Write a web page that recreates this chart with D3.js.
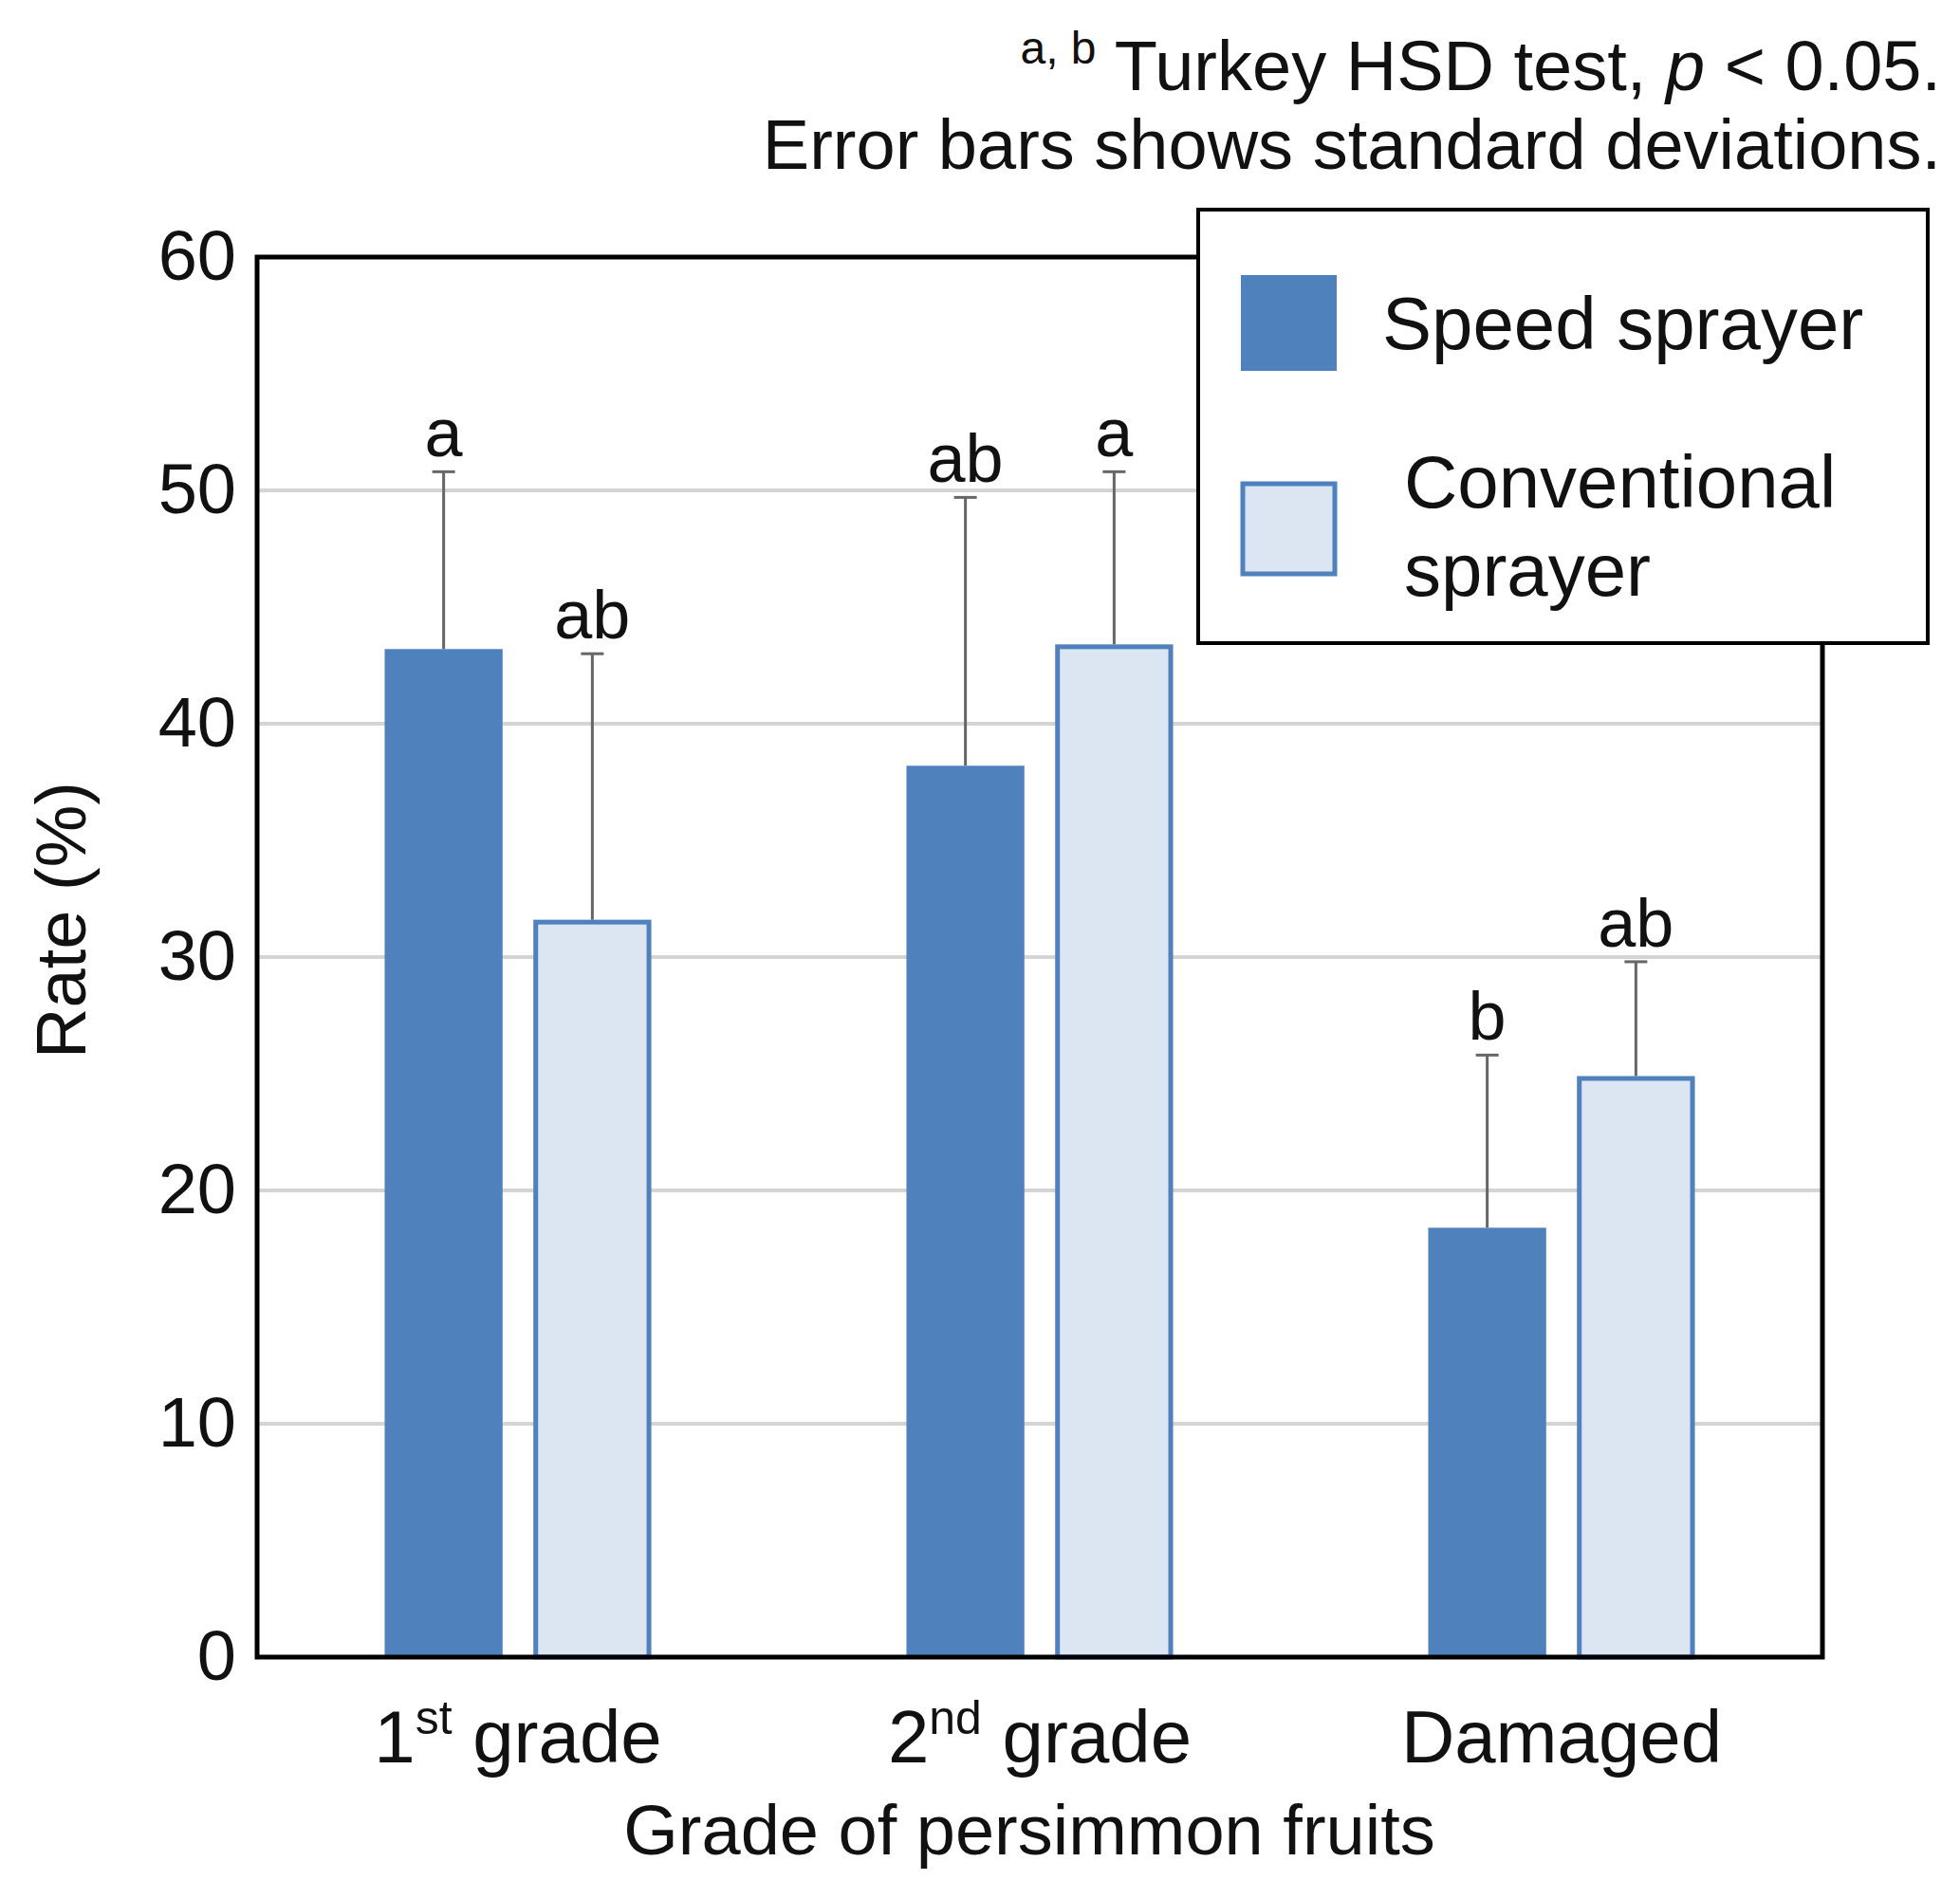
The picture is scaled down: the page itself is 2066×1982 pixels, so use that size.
<!DOCTYPE html>
<html><head><meta charset="utf-8">
<script src="https://cdn.jsdelivr.net/npm/d3@7"></script>
<style>body{margin:0;background:#fff}svg{display:block;font-family:Arial,"Liberation Sans",sans-serif}</style>
</head><body>
<script>
const categories = ["1st grade","2nd grade","Damaged"];
const seriesNames = ["Speed sprayer","Conventional sprayer"];
const speedValues = [43.2, 38.2, 18.4];
const speedSD = [7.6, 11.5, 7.4];
const convValues = [31.6, 43.4, 24.9];
const convSD = [11.4, 7.4, 4.9];
const speedLetters = ["a","ab","b"];
const convLetters = ["ab","a","ab"];
const yTicks = [0,10,20,30,40,50,60];

const W=2066,H=1982;
const L=271,R=1921,T=271,B=1747;
const svg=d3.select("body").append("svg").attr("width",W).attr("height",H);
const y=d3.scaleLinear().domain([0,60]).range([B,T]);
const x=d3.scaleBand().domain(categories).range([L,R]).padding(0);
const sub=d3.scaleBand().domain([0,1]).range([-0.2555,0.2555]).paddingInner(0.207);
const bw=x.bandwidth();

svg.append("g").selectAll("line").data(yTicks.filter(t=>t>0&&t<60)).join("line")
 .attr("x1",L).attr("x2",R).attr("y1",d=>y(d)).attr("y2",d=>y(d))
 .attr("stroke","#d4d4d4").attr("stroke-width",4);

const data=[];
categories.forEach((c,i)=>{
 data.push({c,s:0,v:speedValues[i],sd:speedSD[i],l:speedLetters[i]});
 data.push({c,s:1,v:convValues[i],sd:convSD[i],l:convLetters[i]});
});
const cx=d=>x(d.c)+bw/2+(sub(d.s)+sub.bandwidth()/2)*bw;
const w=sub.bandwidth()*bw;

const eb=svg.append("g").attr("stroke","#666").attr("stroke-width",3);
data.forEach(d=>{
 eb.append("line").attr("x1",cx(d)).attr("x2",cx(d)).attr("y1",y(d.v)).attr("y2",y(d.v+d.sd));
 eb.append("line").attr("x1",cx(d)-12).attr("x2",cx(d)+12).attr("y1",y(d.v+d.sd)).attr("y2",y(d.v+d.sd));
});
svg.append("g").selectAll("rect").data(data).join("rect")
 .attr("x",d=>cx(d)-w/2+(d.s?2.5:0)).attr("width",d=>w-(d.s?5:0))
 .attr("y",d=>y(d.v)+(d.s?2.5:0)).attr("height",d=>B-y(d.v)-(d.s?2.5:0))
 .attr("fill",d=>d.s?"#dce6f2":"#4f81bd").attr("stroke",d=>d.s?"#4f81bd":"none").attr("stroke-width",5);
svg.append("g").selectAll("text").data(data).join("text")
 .attr("x",cx).attr("y",d=>y(d.v+d.sd)-16).attr("text-anchor","middle")
 .attr("font-size",72).attr("fill","#111").text(d=>d.l);

svg.append("rect").attr("x",L).attr("y",T).attr("width",R-L).attr("height",B-T)
 .attr("fill","none").attr("stroke","#000").attr("stroke-width",5);

const ya=svg.append("g").attr("transform",`translate(${L},0)`).call(d3.axisLeft(y).tickValues(yTicks).tickSize(0).tickPadding(22));
ya.select(".domain").remove();
ya.selectAll("text").attr("font-size",74).attr("fill","#111").attr("font-family","Arial,'Liberation Sans',sans-serif");

const sups={"1st grade":["1","st"," grade"],"2nd grade":["2","nd"," grade"],"Damaged":["Damaged","",""]};
categories.forEach(c=>{
 const t=svg.append("text").attr("x",x(c)+bw/2).attr("y",1858).attr("text-anchor","middle").attr("font-size",78).attr("fill","#111");
 const p=sups[c];
 t.append("tspan").text(p[0]);
 if(p[1]){t.append("tspan").attr("font-size",50).attr("dy",-30).text(p[1]);
 t.append("tspan").attr("dy",30).text(p[2]);}
});
svg.append("text").attr("x",1085).attr("y",1955).attr("text-anchor","middle").attr("font-size",74).attr("fill","#111").text("Grade of persimmon fruits");
svg.append("text").attr("transform","translate(90,970) rotate(-90)").attr("text-anchor","middle").attr("font-size",74).attr("fill","#111").text("Rate (%)");

const n1=svg.append("text").attr("x",2046).attr("y",95).attr("text-anchor","end").attr("font-size",74).attr("fill","#111");
n1.append("tspan").attr("font-size",48).attr("dy",-28).text("a, b");
n1.append("tspan").attr("dy",28).text(" Turkey HSD test, ");
n1.append("tspan").attr("font-style","italic").text("p");
n1.append("tspan").text(" < 0.05.");
svg.append("text").attr("x",2046).attr("y",178).attr("text-anchor","end").attr("font-size",74).attr("fill","#111").text("Error bars shows standard deviations.");

const lg=svg.append("g");
lg.append("rect").attr("x",1263).attr("y",221).attr("width",769).attr("height",457).attr("fill","#fff").attr("stroke","#000").attr("stroke-width",4);
lg.append("rect").attr("x",1308).attr("y",290).attr("width",101).attr("height",101).attr("fill","#4f81bd");
lg.append("rect").attr("x",1310).attr("y",510).attr("width",97).attr("height",95).attr("fill","#dce6f2").attr("stroke","#4f81bd").attr("stroke-width",5);
lg.append("text").attr("x",1457).attr("y",368).attr("font-size",78).attr("fill","#111").text(seriesNames[0]);
lg.append("text").attr("x",1480).attr("y",535).attr("font-size",78).attr("fill","#111").text("Conventional");
lg.append("text").attr("x",1480).attr("y",628).attr("font-size",78).attr("fill","#111").text("sprayer");
</script>
</body></html>
